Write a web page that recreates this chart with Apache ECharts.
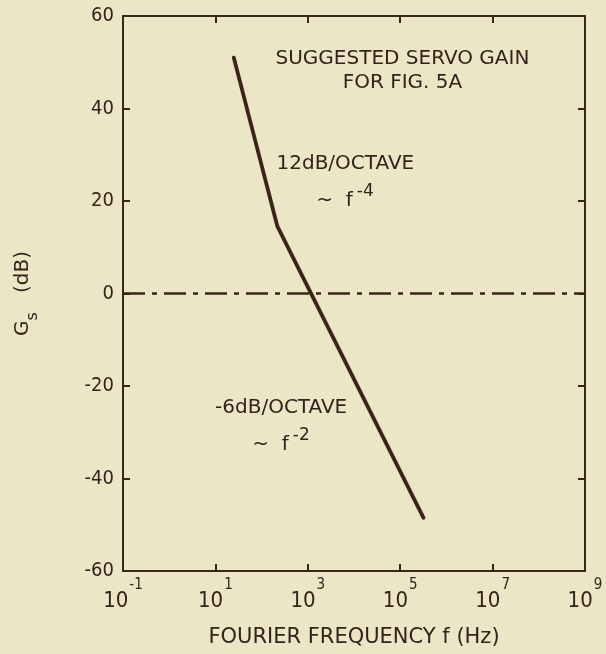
<!DOCTYPE html>
<html>
<head>
<meta charset="utf-8">
<script src="https://cdn.jsdelivr.net/npm/echarts@6/dist/echarts.min.js"></script>
<style>
html,body{margin:0;padding:0;background:#ebe6c6;}
#chart{width:606px;height:654px;}
</style>
</head>
<body>
<div id="chart"></div>
<script>
// ---- data ----
const servoFreqHz = [25, 220, 320000];      // Fourier frequency f (Hz)
const servoGainDb = [51, 14.5, -48.5];      // G_s (dB)
const zeroLineFreqHz = [0.1, 1e9];
const zeroLineDb = [0, 0];
const xTickExponents = [-1, 1, 3, 5, 7, 9];  // tick labels 10^n
const xMinorTickExponents = [1, 3, 5, 7];
const yTicks = [-60, -40, -20, 0, 20, 40, 60];
const annotationKeys = ['title', 'slope12', 'f4', 'slope6', 'f2'];
const annotationFreqHz = [112000, 6500, 6400, 265, 263];
const annotationDb = [48.1, 28, 21.8, -24.8, -31.0];

// ---- styling ----
const INK = '#3b2418';
const TXT = '#35221a';
const FONT_C = "'DejaVu Sans Condensed','DejaVu Sans',sans-serif";
const FONT = "'DejaVu Sans',sans-serif";

const lg = v => Math.log10(v);
const servoData = servoFreqHz.map((f, i) => [lg(f), servoGainDb[i]]);
const zeroData = zeroLineFreqHz.map((f, i) => [lg(f), zeroLineDb[i]]);
const annData = annotationKeys.map((k, i) => ({name: k, value: [lg(annotationFreqHz[i]), annotationDb[i]]}));

const annFormat = {
  title: '{t|SUGGESTED SERVO GAIN}\n{t|FOR FIG. 5A}',
  slope12: '{t|12dB/OCTAVE}',
  f4: '{tl|~  f}{sp|-4}',
  slope6: '{t|-6dB/OCTAVE}',
  f2: '{tl|~  f}{sp|-2}'
};

const chart = echarts.init(document.getElementById('chart'), null, {renderer: 'canvas'});
chart.setOption({
  backgroundColor: '#ebe6c6',
  animation: false,
  grid: {left: 123, right: 21, top: 16, bottom: 83, containLabel: false},
  xAxis: [{
    type: 'value', min: -1, max: 9, position: 'bottom',
    axisLine: {show: true, onZero: false, lineStyle: {color: INK, width: 2}},
    axisTick: {show: true, inside: true, length: 7, customValues: xMinorTickExponents, lineStyle: {color: INK, width: 2}},
    splitLine: {show: false},
    axisLabel: {
      customValues: xTickExponents, margin: 7, color: TXT, fontFamily: FONT_C,
      formatter: v => '{b|10}{s|' + v + '}',
      rich: {
        b: {fontSize: 22, lineHeight: 22, padding: [12, 0, 0, 0], verticalAlign: 'top', color: TXT, fontFamily: FONT_C},
        s: {fontSize: 15, lineHeight: 15, padding: [0, 0, 0, 1], verticalAlign: 'top', color: TXT, fontFamily: FONT_C}
      }
    },
    name: 'FOURIER FREQUENCY f (Hz)', nameLocation: 'middle', nameGap: 56,
    nameTextStyle: {color: TXT, fontSize: 21, fontFamily: FONT}
  }, {
    type: 'value', min: -1, max: 9, position: 'top',
    axisLine: {show: true, onZero: false, lineStyle: {color: INK, width: 2}},
    axisTick: {show: true, inside: true, length: 7, customValues: xMinorTickExponents, lineStyle: {color: INK, width: 2}},
    axisLabel: {show: false}, splitLine: {show: false}
  }],
  yAxis: [{
    type: 'value', min: -60, max: 60, interval: 20, position: 'left',
    axisLine: {show: true, onZero: false, lineStyle: {color: INK, width: 2}},
    axisTick: {show: true, inside: true, length: 7, lineStyle: {color: INK, width: 2}},
    splitLine: {show: false},
    axisLabel: {margin: 9, color: TXT, fontSize: 20, fontFamily: FONT_C,
      customValues: yTicks},
    name: '{g|G}{s|s}{g|   (dB)}', nameLocation: 'middle', nameRotate: 90, nameGap: 88,
    nameTextStyle: {color: TXT, fontFamily: FONT,
      rich: {
        g: {fontSize: 20, lineHeight: 22, verticalAlign: 'top', color: TXT, fontFamily: FONT},
        s: {fontSize: 16, lineHeight: 16, padding: [12, 0, 0, 0], verticalAlign: 'top', color: TXT, fontFamily: FONT}
      }}
  }, {
    type: 'value', min: -60, max: 60, interval: 20, position: 'right',
    axisLine: {show: true, onZero: false, lineStyle: {color: INK, width: 2}},
    axisTick: {show: true, inside: true, length: 7, lineStyle: {color: INK, width: 2}},
    axisLabel: {show: false}, splitLine: {show: false}
  }],
  series: [{
    type: 'line', data: zeroData, showSymbol: false, symbol: 'none',
    lineStyle: {color: INK, width: 2.5, type: [22, 7, 5, 7]}, z: 2
  }, {
    type: 'line', data: servoData, showSymbol: false, symbol: 'none',
    lineStyle: {color: INK, width: 3.8, cap: 'round', join: 'round'}, z: 3
  }, {
    type: 'scatter', data: annData, symbolSize: 1, silent: true,
    itemStyle: {color: 'rgba(0,0,0,0)'},
    label: {
      show: true, position: 'inside', align: 'center', verticalAlign: 'middle',
      color: TXT, textBorderWidth: 0, opacity: 1,
      formatter: p => annFormat[p.name],
      rich: {
        t: {fontSize: 20, lineHeight: 24, color: TXT, fontFamily: FONT, align: 'center', textBorderWidth: 0},
        tl: {fontSize: 20, lineHeight: 20, padding: [8, 0, 0, 0], verticalAlign: 'top', color: TXT, fontFamily: FONT, textBorderWidth: 0},
        sp: {fontSize: 17, lineHeight: 17, padding: [0, 0, 0, 4], verticalAlign: 'top', color: TXT, fontFamily: FONT, textBorderWidth: 0}
      }
    }, z: 4
  }]
});
</script>
</body>
</html>
